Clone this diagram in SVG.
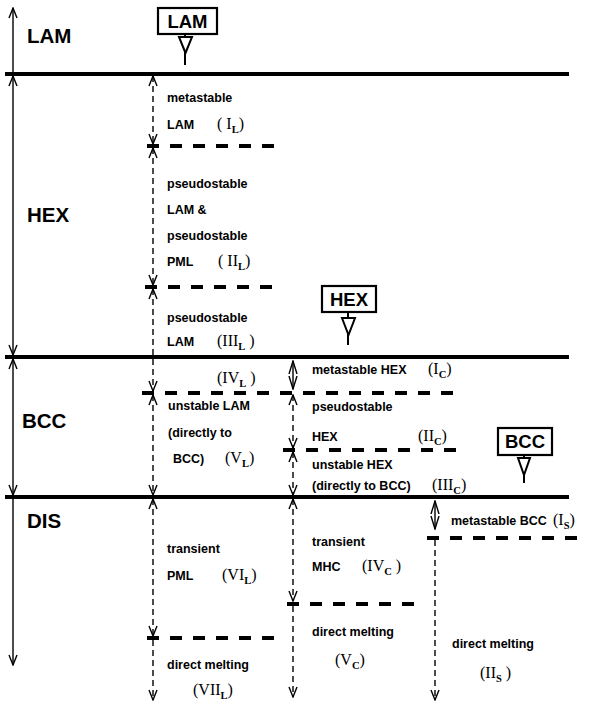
<svg xmlns="http://www.w3.org/2000/svg" width="600" height="709" viewBox="0 0 600 709">
<style>
.bg{fill:#fff}
.solid{stroke:#000;stroke-width:4;fill:none}
.hd{stroke:#000;stroke-width:4;stroke-dasharray:12 11;fill:none}
.axis{stroke:#000;stroke-width:1.4;fill:none}
.vd{stroke:#000;stroke-width:1.4;stroke-dasharray:6 4;fill:none}
.box{fill:#fff;stroke:#000;stroke-width:2.2}
.tri{fill:#fff;stroke:#000;stroke-width:2}
.stem{stroke:#000;stroke-width:2;fill:none}
.big{font-family:"Liberation Sans",Arial,sans-serif;font-weight:bold;font-size:20.5px;fill:#000}
.bx{font-family:"Liberation Sans",Arial,sans-serif;font-weight:bold;font-size:18.5px;fill:#000;text-anchor:middle}
.t{font-family:"Liberation Sans",Arial,sans-serif;font-weight:bold;font-size:12.5px;fill:#000}
.r{font-family:"Liberation Serif","Times New Roman",serif;font-size:16px;fill:#000}
.sb{font-family:"Liberation Serif","Times New Roman",serif;font-weight:bold;font-size:10.5px}
</style>
<defs>
<marker id="ah" viewBox="0 0 12 10" refX="11" refY="5" markerWidth="12" markerHeight="10" markerUnits="userSpaceOnUse" orient="auto-start-reverse">
<path d="M1,1 L11,5 L1,9" fill="none" stroke="#000" stroke-width="1.4" stroke-dasharray="none"/>
</marker>
<marker id="ahd" viewBox="0 0 14 10" refX="13" refY="5" markerWidth="14" markerHeight="10" markerUnits="userSpaceOnUse" orient="auto-start-reverse">
<path d="M0,1 L13,5 L0,9" fill="none" stroke="#000" stroke-width="1.4" stroke-dasharray="none"/>
</marker>
</defs>
<rect class="bg" x="0" y="0" width="600" height="709"/>

<g id="connectors">
<!-- solid phase boundaries -->
<line class="solid" x1="5" y1="74" x2="569" y2="74"/>
<line class="solid" x1="5" y1="357" x2="569" y2="357"/>
<line class="solid" x1="5" y1="497" x2="569" y2="497"/>
<!-- dashed sub-boundaries -->
<line class="hd" x1="147" y1="146" x2="275" y2="146"/>
<line class="hd" x1="145" y1="287" x2="275" y2="287"/>
<line class="hd" x1="142" y1="393" x2="460" y2="393"/>
<line class="hd" x1="283" y1="450" x2="460" y2="450"/>
<line class="hd" x1="427" y1="538" x2="582" y2="538"/>
<line class="hd" x1="287" y1="604" x2="417" y2="604"/>
<line class="hd" x1="147" y1="638" x2="277" y2="638"/>
<!-- left axis -->
<line class="axis" x1="13" y1="73" x2="13" y2="8" marker-end="url(#ah)"/>
<line class="axis" x1="13" y1="76" x2="13" y2="355" marker-start="url(#ah)" marker-end="url(#ah)"/>
<line class="axis" x1="13" y1="359" x2="13" y2="495" marker-start="url(#ah)" marker-end="url(#ah)"/>
<line class="axis" x1="13" y1="497" x2="13" y2="665" marker-end="url(#ah)"/>
<!-- left dashed column -->
<line class="vd" x1="153" y1="76" x2="153" y2="144" marker-start="url(#ah)" marker-end="url(#ah)"/>
<line class="vd" x1="153" y1="148" x2="153" y2="285" marker-start="url(#ah)" marker-end="url(#ah)"/>
<line class="vd" x1="153" y1="289" x2="153" y2="391" marker-start="url(#ah)" marker-end="url(#ah)"/>
<line class="vd" x1="153" y1="395" x2="153" y2="495" marker-start="url(#ah)" marker-end="url(#ah)"/>
<line class="vd" x1="153" y1="499" x2="153" y2="636" marker-start="url(#ah)" marker-end="url(#ah)"/>
<line class="vd" x1="153" y1="640" x2="153" y2="700" marker-end="url(#ah)"/>
<!-- middle dashed column -->
<line class="axis" x1="293" y1="361" x2="293" y2="389" marker-start="url(#ahd)" marker-end="url(#ahd)"/>
<line class="vd" x1="293" y1="395" x2="293" y2="448" marker-start="url(#ah)" marker-end="url(#ah)"/>
<line class="vd" x1="293" y1="452" x2="293" y2="495" marker-start="url(#ah)" marker-end="url(#ah)"/>
<line class="vd" x1="293" y1="499" x2="293" y2="601" marker-start="url(#ah)" marker-end="url(#ah)"/>
<line class="vd" x1="293" y1="606" x2="293" y2="697" marker-end="url(#ah)"/>
<!-- right dashed column -->
<line class="axis" x1="435" y1="501" x2="435" y2="529" marker-start="url(#ahd)" marker-end="url(#ahd)"/>
<line class="vd" x1="435" y1="540" x2="435" y2="700" marker-end="url(#ah)"/>
</g>

<g id="box-lam">
<rect class="box" x="158" y="8" width="59" height="26"/>
<text class="bx" x="187.5" y="28">LAM</text>
<line class="stem" x1="185" y1="34" x2="185" y2="65"/>
<polygon class="tri" points="179,37 192,37 185.5,53"/>
</g>
<g id="box-hex">
<rect class="box" x="322" y="286" width="54" height="26"/>
<text class="bx" x="349" y="306">HEX</text>
<line class="stem" x1="348" y1="312" x2="348" y2="345"/>
<polygon class="tri" points="342,318 355,318 348.5,335"/>
</g>
<g id="box-bcc">
<rect class="box" x="498" y="428" width="54" height="27"/>
<text class="bx" x="525" y="448">BCC</text>
<line class="stem" x1="524" y1="455" x2="524" y2="483"/>
<polygon class="tri" points="518,458 530,458 524,475"/>
</g>

<g id="phase-lam"><text class="big" x="27" y="43">LAM</text></g>
<g id="phase-hex"><text class="big" x="27" y="222">HEX</text></g>
<g id="phase-bcc"><text class="big" x="22" y="428">BCC</text></g>
<g id="phase-dis"><text class="big" x="27" y="528">DIS</text></g>

<g id="IL">
<text class="t" x="167" y="102">metastable</text>
<text class="t" x="167" y="129">LAM</text>
<text class="r" x="217" y="129">( I<tspan class="sb" dy="4">L</tspan><tspan dy="-4">)</tspan></text>
</g>
<g id="IIL">
<text class="t" x="167" y="188">pseudostable</text>
<text class="t" x="167" y="214">LAM &amp;</text>
<text class="t" x="167" y="240">pseudostable</text>
<text class="t" x="167" y="266">PML</text>
<text class="r" x="218" y="266">( II<tspan class="sb" dy="4">L</tspan><tspan dy="-4">)</tspan></text>
</g>
<g id="IIIL">
<text class="t" x="167" y="322">pseudostable</text>
<text class="t" x="167" y="346">LAM</text>
<text class="r" x="217" y="346">(III<tspan class="sb" dy="4">L</tspan><tspan dy="-4"> )</tspan></text>
</g>
<g id="IVL">
<text class="r" x="217" y="383">(IV<tspan class="sb" dy="4">L</tspan><tspan dy="-4"> )</tspan></text>
</g>
<g id="VL">
<text class="t" x="168" y="410">unstable LAM</text>
<text class="t" x="168" y="437">(directly to</text>
<text class="t" x="173" y="463">BCC)</text>
<text class="r" x="225" y="463">(V<tspan class="sb" dy="4">L</tspan><tspan dy="-4">)</tspan></text>
</g>
<g id="VIL">
<text class="t" x="167" y="553">transient</text>
<text class="t" x="167" y="580">PML</text>
<text class="r" x="222" y="580">(VI<tspan class="sb" dy="4">L</tspan><tspan dy="-4">)</tspan></text>
</g>
<g id="VIIL">
<text class="t" x="167" y="669">direct melting</text>
<text class="r" x="193" y="695">(VII<tspan class="sb" dy="4">L</tspan><tspan dy="-4">)</tspan></text>
</g>
<g id="IC">
<text class="t" x="312" y="374">metastable HEX</text>
<text class="r" x="428" y="374">(I<tspan class="sb" dy="4">C</tspan><tspan dy="-4">)</tspan></text>
</g>
<g id="IIC">
<text class="t" x="312" y="411">pseudostable</text>
<text class="t" x="312" y="441">HEX</text>
<text class="r" x="418" y="441">(II<tspan class="sb" dy="4">C</tspan><tspan dy="-4">)</tspan></text>
</g>
<g id="IIIC">
<text class="t" x="312" y="469">unstable HEX</text>
<text class="t" x="312" y="490">(directly to BCC)</text>
<text class="r" x="432" y="490">(III<tspan class="sb" dy="4">C</tspan><tspan dy="-4">)</tspan></text>
</g>
<g id="IVC">
<text class="t" x="312" y="546">transient</text>
<text class="t" x="312" y="571">MHC</text>
<text class="r" x="362" y="571">(IV<tspan class="sb" dy="4">C</tspan><tspan dy="-4"> )</tspan></text>
</g>
<g id="VC">
<text class="t" x="312" y="636">direct melting</text>
<text class="r" x="335" y="665">(V<tspan class="sb" dy="4">C</tspan><tspan dy="-4">)</tspan></text>
</g>
<g id="IS">
<text class="t" x="451" y="525">metastable BCC</text>
<text class="r" x="553" y="525">(I<tspan class="sb" dy="4">S</tspan><tspan dy="-4">)</tspan></text>
</g>
<g id="IIS">
<text class="t" x="452" y="648">direct melting</text>
<text class="r" x="480" y="678">(II<tspan class="sb" dy="4">S</tspan><tspan dy="-4"> )</tspan></text>
</g>
</svg>
